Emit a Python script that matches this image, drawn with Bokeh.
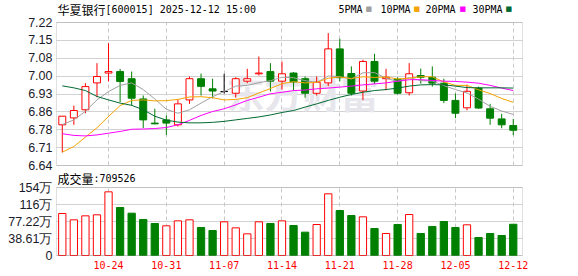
from bokeh.plotting import figure
from bokeh.models import (ColumnDataSource, FixedTicker, Label, Range1d, Grid, BoxAnnotation)
from bokeh.embed import file_html
from bokeh.resources import INLINE

# ---------------- data ----------------
dates = ["10-20", "10-21", "10-22", "10-23", "10-24", "10-27", "10-28", "10-29", "10-30", "10-31",
         "11-03", "11-04", "11-05", "11-06", "11-07", "11-10", "11-11", "11-12", "11-13", "11-14",
         "11-17", "11-18", "11-19", "11-20", "11-21", "11-24", "11-25", "11-26", "11-27", "11-28",
         "12-01", "12-02", "12-03", "12-04", "12-05", "12-08", "12-09", "12-10", "12-11", "12-12"]

opens = [6.805, 6.833, 6.866, 6.975, 7.015, 7.021, 6.992, 6.910, 6.812, 6.825,
         6.805, 6.906, 6.992, 6.951, 6.940, 6.933, 6.982, 7.012, 7.021, 6.982,
         7.015, 6.992, 6.933, 6.975, 7.113, 7.013, 6.942, 7.062, 6.992, 6.990,
         6.935, 7.005, 6.998, 6.974, 6.904, 6.874, 6.954, 6.870, 6.829, 6.802]
highs = [6.840, 6.883, 6.974, 7.055, 7.136, 7.032, 7.021, 6.924, 6.870, 6.843,
         6.908, 7.001, 7.013, 6.992, 7.012, 6.998, 7.032, 7.082, 7.055, 7.062,
         7.019, 7.001, 7.001, 7.177, 7.154, 7.042, 7.069, 7.093, 7.032, 6.998,
         7.055, 7.033, 7.042, 6.992, 6.932, 6.968, 6.960, 6.890, 6.850, 6.829]
lows = [6.693, 6.805, 6.852, 6.917, 6.981, 6.897, 6.883, 6.792, 6.807, 6.764,
        6.798, 6.890, 6.924, 6.912, 6.932, 6.915, 6.974, 7.005, 6.940, 6.947,
        6.944, 6.915, 6.924, 6.962, 6.981, 6.924, 6.905, 6.971, 6.945, 6.928,
        6.924, 6.972, 6.960, 6.893, 6.832, 6.864, 6.870, 6.805, 6.791, 6.763]
closes = [6.840, 6.863, 6.960, 7.001, 7.021, 6.981, 6.913, 6.825, 6.809, 6.812,
          6.890, 6.992, 6.961, 6.942, 6.940, 6.992, 6.992, 7.015, 6.982, 7.012,
          6.979, 6.933, 6.978, 7.113, 6.996, 6.933, 7.062, 6.982, 6.998, 6.933,
          7.012, 6.998, 6.974, 6.904, 6.852, 6.941, 6.873, 6.832, 6.805, 6.783]

ma5 = [6.806, 6.825, 6.860, 6.906, 6.940, 6.965, 6.975, 6.948, 6.910, 6.868,
       6.852, 6.866, 6.893, 6.919, 6.940, 6.962, 6.965, 6.976, 6.984, 6.998,
       6.996, 6.984, 6.977, 7.003, 7.000, 6.991, 7.016, 7.017, 6.994, 6.981,
       6.997, 6.984, 6.983, 6.964, 6.948, 6.934, 6.909, 6.880, 6.861, 6.847]
ma10 = [6.694, 6.717, 6.755, 6.793, 6.839, 6.883, 6.904, 6.906, 6.902, 6.903,
        6.908, 6.918, 6.919, 6.915, 6.906, 6.908, 6.915, 6.934, 6.952, 6.972,
        6.980, 6.975, 6.977, 6.994, 6.999, 6.993, 7.000, 6.997, 6.999, 6.991,
        6.994, 7.000, 7.000, 6.979, 6.965, 6.965, 6.947, 6.932, 6.912, 6.896]
ma20 = [6.769, 6.762, 6.760, 6.764, 6.771, 6.778, 6.787, 6.788, 6.790, 6.794,
        6.805, 6.823, 6.843, 6.859, 6.870, 6.886, 6.904, 6.917, 6.931, 6.937,
        6.944, 6.946, 6.951, 6.954, 6.958, 6.962, 6.967, 6.971, 6.975, 6.982,
        6.988, 6.988, 6.985, 6.982, 6.981, 6.978, 6.974, 6.965, 6.954, 6.944]
ma30 = [6.963, 6.955, 6.944, 6.920, 6.906, 6.893, 6.884, 6.866, 6.840, 6.824,
        6.816, 6.813, 6.813, 6.815, 6.819, 6.825, 6.831, 6.837, 6.845, 6.855,
        6.863, 6.877, 6.890, 6.904, 6.917, 6.928, 6.937, 6.944, 6.948, 6.954,
        6.962, 6.967, 6.968, 6.967, 6.962, 6.956, 6.955, 6.955, 6.955, 6.954]

# volume in units of 10k (万)
volumes = [95.4, 81.0, 90.1, 92.4, 144.6, 109.0, 96.1, 81.8, 72.7, 67.4,
           78.7, 81.0, 63.6, 56.8, 76.5, 62.8, 49.2, 76.5, 72.7, 78.7,
           68.1, 53.0, 70.4, 140.1, 102.2, 90.8, 87.8, 61.3, 50.0, 70.4,
           93.1, 50.0, 65.9, 77.2, 63.6, 69.7, 40.9, 50.0, 45.4, 70.95]
vol_up = [1, 1, 1, 1, 1, 0, 0, 0, 0, 1,
          1, 1, 0, 0, 1, 1, 1, 1, 0, 1,
          0, 0, 1, 1, 0, 0, 1, 0, 1, 0,
          1, 0, 0, 0, 0, 1, 0, 0, 0, 0]

price_tick_values = [6.64, 6.7125, 6.785, 6.8575, 6.93, 7.0025, 7.075, 7.1475, 7.22]
price_tick_labels = ["6.64", "6.71", "6.78", "6.86", "6.93", "7.00", "7.08", "7.15", "7.22"]
vol_tick_values = [0, 38.61, 77.22, 115.83, 154.44]
vol_tick_labels = ["0", "38.61万", "77.22万", "116万", "154万"]
date_tick_idx = [4, 9, 14, 19, 24, 29, 34, 39]

title_name = "华夏银行"
title_rest = "[600015] 2025-12-12 15:00"
vol_name = "成交量"
vol_last = ":709526"
legend_names = ["5PMA", "10PMA", "20PMA", "30PMA"]

# ---------------- styles / layout geometry (pixels) ----------------
RED = "#ff0000"
GREEN = "#008000"
MA_COLORS = ["#a0a0a0", "#f5a300", "#ff00ff", "#006a32"]
GRID = "#d2d2d2"
VGRID = "#c8c8c8"
FRAME = "#999999"
LABEL_FONT = "Liberation Sans"
MONO = "DejaVu Sans Mono"
CJK = "Noto Sans CJK SC"
W, H = 578, 276

FR_L, FR_R, FR_T, FR_B = 55, 523, 0, 256          # plot frame on canvas
BOX_L, BOX_R = 56, 522                              # panel borders
P_TOP, P_BOT = 22, 165                              # price panel
V_TOP, V_BOT = 187, 255                             # volume panel
X_MIN, X_MAX = -0.5, 39.8
P_MIN, P_MAX = price_tick_values[0], price_tick_values[-1]
V_MIN, V_MAX = vol_tick_values[0], vol_tick_values[-1]

kx = (BOX_R - BOX_L) / (X_MAX - X_MIN)
kp = (P_BOT - P_TOP) / (P_MAX - P_MIN)
kv = (V_BOT - V_TOP) / (V_MAX - V_MIN)
x_range = Range1d(X_MIN - (BOX_L - FR_L) / kx, X_MAX + (FR_R - BOX_R) / kx)
y_range = Range1d(P_MIN - (FR_B - P_BOT) / kp, P_MAX + (P_TOP - FR_T) / kp)
vol_range = Range1d(V_MIN - (FR_B - V_BOT) / kv, V_MAX + (V_TOP - FR_T) / kv)


def vol_to_price_axis(v):
    # position of a volume tick expressed on the (shared) left axis
    y_px = V_BOT - (v - V_MIN) * kv
    return y_range.start + (FR_B - y_px) / kp


xs = list(range(len(dates)))
cdl_color = [RED if c > o else (GREEN if c < o else "#000000") for o, c in zip(opens, closes)]
cdl_fill = ["#ffffff" if c > o else col for o, c, col in zip(opens, closes, cdl_color)]
cdl_top = [max(o, c) for o, c in zip(opens, closes)]
cdl_bot = [min(o, c) for o, c in zip(opens, closes)]
vol_color = [RED if u else GREEN for u in vol_up]
vol_fill = ["#ffffff" if u else GREEN for u in vol_up]

src = ColumnDataSource(dict(x=xs, high=highs, low=lows, top=cdl_top, bottom=cdl_bot,
                            color=cdl_color, fill=cdl_fill,
                            ma5=ma5, ma10=ma10, ma20=ma20, ma30=ma30,
                            vol=volumes, vcolor=vol_color, vfill=vol_fill))

p = figure(width=W, height=H, x_range=x_range, y_range=y_range,
           output_backend="svg", toolbar_location=None,
           min_border_left=FR_L, min_border_right=W - FR_R,
           min_border_top=FR_T, min_border_bottom=H - FR_B,
           outline_line_color=None, background_fill_color="white",
           border_fill_color="white")
p.extra_y_ranges = {"vol": vol_range}

# ---- left axis: price ticks + volume ticks ----
vol_tick_pos = [vol_to_price_axis(v) for v in vol_tick_values]
all_ticks = price_tick_values + vol_tick_pos
all_labels = price_tick_labels + vol_tick_labels
p.yaxis.ticker = FixedTicker(ticks=all_ticks)
p.yaxis.major_label_overrides = {t: l for t, l in zip(all_ticks, all_labels)}
p.yaxis.axis_line_color = None
p.yaxis.major_tick_line_color = None
p.yaxis.minor_tick_line_color = None
p.yaxis.major_tick_out = 0
p.yaxis.major_tick_in = 0
p.yaxis.major_label_standoff = 3
p.yaxis.major_label_text_font = LABEL_FONT
p.yaxis.major_label_text_font_size = "12.5px"
p.yaxis.major_label_text_color = "#1a1a2a"

# ---- bottom axis: dates ----
p.xaxis.ticker = FixedTicker(ticks=date_tick_idx)
p.xaxis.major_label_overrides = {i: dates[i] for i in date_tick_idx}
p.xaxis.axis_line_color = None
p.xaxis.major_tick_line_color = None
p.xaxis.minor_tick_line_color = None
p.xaxis.major_tick_out = 0
p.xaxis.major_tick_in = 0
p.xaxis.major_label_standoff = 4
p.xaxis.major_label_text_font = MONO
p.xaxis.major_label_text_font_size = "10px"
p.xaxis.major_label_text_color = RED

# ---- grids ----
p.ygrid.ticker = FixedTicker(ticks=all_ticks)
p.ygrid.grid_line_color = GRID
p.ygrid.cross_bounds = (X_MIN, X_MAX)
p.xgrid.ticker = FixedTicker(ticks=date_tick_idx)
p.xgrid.grid_line_color = VGRID
p.xgrid.grid_line_dash = "4 3"
p.xgrid.cross_bounds = (P_MIN, P_MAX)
vgrid2 = Grid(dimension=0, ticker=FixedTicker(ticks=date_tick_idx), y_range_name="vol",
              cross_bounds=(V_MIN, V_MAX), grid_line_color=VGRID, grid_line_dash="4 3")
p.add_layout(vgrid2)

# ---- watermark ----
p.add_layout(Label(x=171, y=FR_B - 91, x_units="screen", y_units="screen", text="东方财富",
                   text_font=CJK, text_font_size="38px", text_font_style="bold",
                   text_color="#e6e6ec", text_baseline="middle", level="underlay"))

# ---- candles + moving averages ----
p.segment(x0="x", y0="high", x1="x", y1="low", color="color", line_width=1, source=src)
p.vbar(x="x", width=0.6, top="top", bottom="bottom", fill_color="fill",
       line_color="color", line_width=1, source=src)
for col, c in zip(["ma5", "ma10", "ma20", "ma30"], MA_COLORS):
    p.line(x="x", y=col, color=c, line_width=1, source=src)

# ---- volume bars ----
p.vbar(x="x", width=0.63, top="vol", bottom=0, fill_color="vfill",
       line_color="vcolor", line_width=1, source=src, y_range_name="vol")

# ---- panel borders ----
p.add_layout(BoxAnnotation(left=X_MIN, right=X_MAX, bottom=P_MIN, top=P_MAX,
                           fill_color=None, line_color=FRAME, line_width=1))
p.add_layout(BoxAnnotation(left=X_MIN, right=X_MAX, bottom=V_MIN, top=V_MAX,
                           y_range_name="vol", fill_color=None, line_color=FRAME,
                           line_width=1))

# ---- header texts (screen units from frame bottom-left) ----
def add_text(x_px, y_px, text, font, size, color="#000000"):
    p.add_layout(Label(x=x_px - FR_L, y=FR_B - y_px, x_units="screen", y_units="screen",
                       text=text, text_font=font, text_font_size=size,
                       text_color=color, text_baseline="middle"))


add_text(57, 8.7, title_name, CJK, "12px")
add_text(105, 8.7, title_rest, MONO, "10px")
for name, lx, sx, c in zip(legend_names, [338, 380, 425, 472], [365, 413, 459, 505], MA_COLORS):
    add_text(lx, 8.7, name, MONO, "10px")
    add_text(sx, 8.5, "■", "DejaVu Sans", "7px", c)
add_text(57, 177.5, vol_name, CJK, "12px")
add_text(93, 177.5, vol_last, MONO, "10px")

open("out.html", "w").write(file_html(p, INLINE))
